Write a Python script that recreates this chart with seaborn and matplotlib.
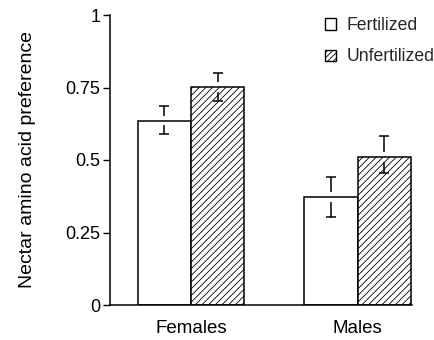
import matplotlib
matplotlib.use("Agg")
import matplotlib.pyplot as plt
import seaborn as sns
import pandas as pd
from matplotlib.patches import Patch

sexes = ["Females", "Males"]
treatments = ["Fertilized", "Unfertilized"]
fertilized = [0.636, 0.373]
unfertilized = [0.751, 0.511]
fert_err_hi = [0.051, 0.069]
fert_err_lo = [0.045, 0.069]
unfert_err_hi = [0.050, 0.073]
unfert_err_lo = [0.047, 0.055]
yticks = [0, 0.25, 0.5, 0.75, 1]
ytick_labels = ["0", "0.25", "0.5", "0.75", "1"]
ylabel = "Nectar amino acid preference"

sns.set_theme(style="ticks")
plt.rcParams['font.family'] = ['Liberation Sans', 'DejaVu Sans']
plt.rcParams['hatch.linewidth'] = 0.6
plt.rcParams['hatch.color'] = 'black'

df = pd.DataFrame({
    "sex": sexes * 2,
    "treatment": [treatments[0]] * len(sexes) + [treatments[1]] * len(sexes),
    "value": fertilized + unfertilized,
})

fig = plt.figure(figsize=(4.35, 3.40), dpi=100)
ax = fig.add_axes([110 / 435, 35 / 340, (412 - 110) / 435, (305 - 15) / 340])
sns.barplot(data=df, x="sex", y="value", hue="treatment", order=sexes,
            hue_order=treatments, palette=["white", "white"], saturation=1,
            width=0.64, gap=0, errorbar=None, edgecolor="black",
            linewidth=1.1, legend=False, ax=ax)

HATCH = "/////"
for bar in ax.containers[1]:
    bar.set_hatch(HATCH)

gap = 0.017
cap = 0.03
lw = 1.1
for cont, means, lo, hi in [(ax.containers[0], fertilized, fert_err_lo, fert_err_hi),
                            (ax.containers[1], unfertilized, unfert_err_lo, unfert_err_hi)]:
    for bar, m, l, h in zip(cont, means, lo, hi):
        xc = bar.get_x() + bar.get_width() / 2
        ax.vlines(xc, m + gap, m + h, color="black", lw=lw, zorder=5)
        ax.hlines(m + h, xc - cap, xc + cap, color="black", lw=lw, zorder=5)
        ax.vlines(xc, m - l, m - gap, color="black", lw=lw, zorder=5)
        ax.hlines(m - l, xc - cap, xc + cap, color="black", lw=lw, zorder=5)

ax.set_ylim(0, 1)
ax.set_xlim(-0.485, 1.325)
ax.set_yticks(yticks)
ax.set_yticklabels(ytick_labels, fontsize=13)
ax.tick_params(axis="y", length=5, width=1, pad=2, colors="black")
ax.tick_params(axis="x", length=0, pad=11, labelsize=13.5, colors="black")
ax.set_xlabel("")
ax.set_ylabel(ylabel, fontsize=14, color="black")
ax.yaxis.set_label_coords(-0.245, 0.5)
for s in ["top", "right"]:
    ax.spines[s].set_visible(False)
for s in ["left", "bottom"]:
    ax.spines[s].set_linewidth(1.1)
    ax.spines[s].set_color("black")

handles = [Patch(facecolor="white", edgecolor="black", linewidth=1.0, label=treatments[0]),
           Patch(facecolor="white", edgecolor="black", linewidth=1.0, hatch="//////", label=treatments[1])]
fig.legend(handles=handles, loc="upper left", bbox_to_anchor=(325 / 435, 1 - 17 / 340),
           frameon=False, borderpad=0, borderaxespad=0, handlelength=0.62,
           handleheight=0.62, handletextpad=0.6, labelspacing=0.82, fontsize=12.7)

fig.savefig("out.png", dpi=100)
